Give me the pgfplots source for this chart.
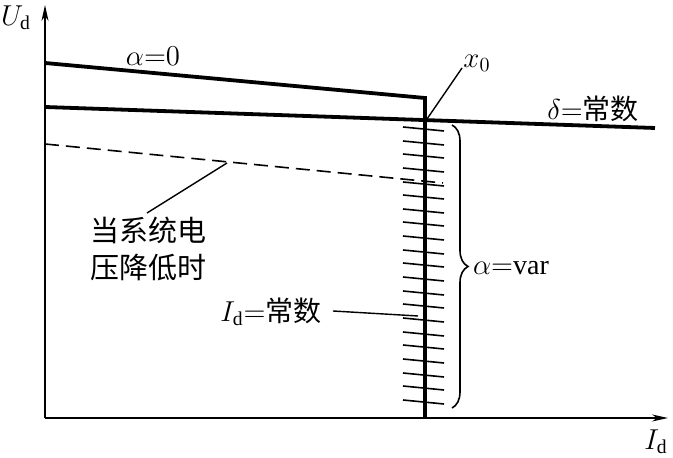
\documentclass[border=0pt]{standalone}
\usepackage{pgfplots}
\pgfplotsset{compat=1.18}
\usepackage{fontspec}
\setmainfont{Liberation Serif}
\newfontfamily\cjk{Noto Sans CJK SC}
\usetikzlibrary{arrows.meta,decorations.pathreplacing}
\begin{document}
\begin{tikzpicture}[font=\fontsize{14}{17}\selectfont]
\begin{axis}[
  x=0.5pt, y=0.5pt,
  xmin=0, xmax=623, ymin=0, ymax=413,
  axis lines=left,
  axis line style={line width=0.8pt,-{Stealth[length=8pt,width=3.5pt,inset=2.5pt]}},
  xtick=\empty, ytick=\empty,
  clip=false,
  unbounded coords=jump,
]
% alpha = 0 characteristic with vertical current limit
\addplot[black, line width=1.9pt, line join=miter] coordinates {(0,355) (380,320) (380,0)};
% delta = const
\addplot[black, line width=1.9pt] coordinates {(0,311) (610,290)};
% reduced system voltage
\addplot[black, line width=0.8pt, dash pattern=on 7pt off 3.5pt] coordinates {(0,274) (398,235)};
% hatching of the current limit
\addplot[black, line width=0.8pt] coordinates {
(358,291) (399,287) (nan,nan)
(358,277) (399,273) (nan,nan)
(358,264) (399,260) (nan,nan)
(358,250) (399,246) (nan,nan)
(358,236) (399,232) (nan,nan)
(358,223) (399,219) (nan,nan)
(358,209) (399,205) (nan,nan)
(358,196) (399,192) (nan,nan)
(358,182) (399,178) (nan,nan)
(358,168) (399,164) (nan,nan)
(358,155) (399,151) (nan,nan)
(358,141) (399,137) (nan,nan)
(358,127) (399,123) (nan,nan)
(358,114) (399,110) (nan,nan)
(358,100) (399,96) (nan,nan)
(358,86) (399,82) (nan,nan)
(358,73) (399,69) (nan,nan)
(358,59) (399,55) (nan,nan)
(358,45) (399,41) (nan,nan)
(358,32) (399,28) (nan,nan)
(358,18) (399,14)
};
% leader lines
\addplot[black, line width=0.7pt] coordinates {(417,350) (382,299)};
\addplot[black, line width=0.7pt] coordinates {(102,205) (182,255)};
\addplot[black, line width=0.7pt] coordinates {(288,107) (373,102)};
% brace
\draw[line width=0.8pt, decorate, decoration={brace, amplitude=8pt, aspect=0.5}]
  (axis cs:407,293) -- (axis cs:407,10);
% labels
\node[inner sep=0pt] at (axis cs:-29,400) {$U_{\mathrm{d}}$};
\node[inner sep=0pt] at (axis cs:611,-24) {$I_{\mathrm{d}}$};
\node at (axis cs:108,362) {$\alpha{=}0$};
\node at (axis cs:432,355) {$x_0$};
\node at (axis cs:548,309) {$\delta{=}${\cjk 常数}};
\node[align=center, font=\fontsize{14.5}{18.5}\selectfont\cjk] at (axis cs:103,169) {当系统电\\压降低时};
\node at (axis cs:226,106) {$I_{\mathrm{d}}{=}${\cjk 常数}};
\node at (axis cs:466,150) {$\alpha{=}\mathrm{var}$};
\coordinate (bbbl) at (axis cs:-45,-40);
\coordinate (bbtr) at (axis cs:628,418);
\end{axis}
\pgfresetboundingbox
\path (bbbl) rectangle (bbtr);
\end{tikzpicture}
\end{document}
